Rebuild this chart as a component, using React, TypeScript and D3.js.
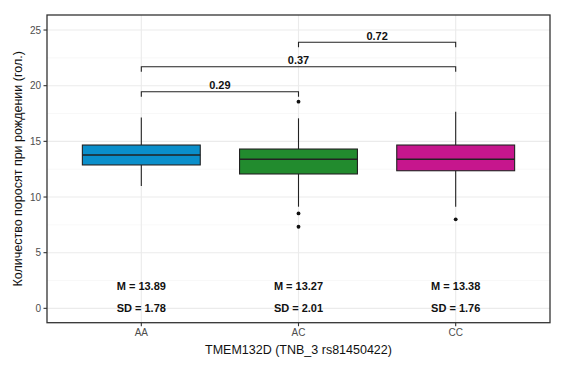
import React from "react";
import * as d3 from "d3";

const categories = ["AA", "AC", "CC"];
const boxColors = ["#0A8FCB", "#228B2E", "#C6168D"];
// [lowerWhisker, q1, median, q3, upperWhisker]
const boxStats = [
  [11.0, 12.88, 13.78, 14.67, 17.15],
  [9.13, 12.07, 13.39, 14.31, 17.07],
  [9.13, 12.36, 13.39, 14.67, 17.66],
];
const outliers = [[], [18.56, 8.53, 7.33], [8.0]];
const meanLabels = ["M = 13.89", "M = 13.27", "M = 13.38"];
const sdLabels = ["SD = 1.78", "SD = 2.01", "SD = 1.76"];
const yTicks = [0, 5, 10, 15, 20, 25];
const yMinor = [2.5, 7.5, 12.5, 17.5, 22.5];
// comparisons: [fromIndex, toIndex, yLevel, label]
const comparisons: [number, number, number, string][] = [
  [0, 1, 19.46, "0.29"],
  [0, 2, 21.7, "0.37"],
  [1, 2, 23.9, "0.72"],
];
const yTitle = "Количество поросят при рождении (гол.)";
const xTitle = "TMEM132D (TNB_3 rs81450422)";

export default function App() {
  const W = 565, H = 367;
  const left = 47, right = 550, top = 15, bottom = 322.7;
  const y = d3.scaleLinear().domain([-1.29, 26.35]).range([bottom, top]);
  const x = d3.scaleLinear().domain([0.4, 3.6]).range([left, right]);
  const cx = (i: number) => x(i + 1);
  const bw = x(0.75) - x(0);
  const tip = y(0) - y(0.45);
  const font = "Liberation Sans, Arial, sans-serif";
  const grid = "#EBEBEB";

  return (
    <div style={{ position: "absolute", left: 0, top: 0 }}>
      <svg width={W} height={H} style={{ display: "block", background: "#fff" }} fontFamily={font}>
        <rect x={0} y={0} width={W} height={H} fill="#fff" />
        {yMinor.map((v) => (
          <line key={"mn" + v} x1={left} x2={right} y1={y(v)} y2={y(v)} stroke="#F3F3F3" strokeWidth={0.6} />
        ))}
        {yTicks.map((v) => (
          <line key={"mj" + v} x1={left} x2={right} y1={y(v)} y2={y(v)} stroke={grid} strokeWidth={1.1} />
        ))}
        {categories.map((c, i) => (
          <line key={"vg" + c} x1={cx(i)} x2={cx(i)} y1={top} y2={bottom} stroke={grid} strokeWidth={1.1} />
        ))}
        {boxStats.map((s, i) => {
          const xc = cx(i);
          return (
            <g key={"b" + i}>
              <line x1={xc} x2={xc} y1={y(s[0])} y2={y(s[1])} stroke="#222" strokeWidth={1.1} />
              <line x1={xc} x2={xc} y1={y(s[3])} y2={y(s[4])} stroke="#222" strokeWidth={1.1} />
              <rect x={xc - bw / 2} y={y(s[3])} width={bw} height={y(s[1]) - y(s[3])} fill={boxColors[i]} stroke="#222" strokeWidth={1.1} />
              <line x1={xc - bw / 2} x2={xc + bw / 2} y1={y(s[2])} y2={y(s[2])} stroke="#222" strokeWidth={1.6} />
              {outliers[i].map((o, k) => (
                <circle key={k} cx={xc} cy={y(o)} r={1.9} fill="#111" />
              ))}
            </g>
          );
        })}
        {comparisons.map(([a, b, lv, lab], i) => (
          <g key={"c" + i}>
            <path
              d={`M${cx(a)},${y(lv) + tip}V${y(lv)}H${cx(b)}V${y(lv) + tip}`}
              fill="none"
              stroke="#222"
              strokeWidth={1.1}
            />
            <text x={(cx(a) + cx(b)) / 2} y={y(lv) - 2.5} textAnchor="middle" fontSize={11} fontWeight="bold" fill="#111">
              {lab}
            </text>
          </g>
        ))}
        {categories.map((c, i) => (
          <g key={"t" + c}>
            <text x={cx(i)} y={y(2)} dy="0.35em" textAnchor="middle" fontSize={11} fontWeight="bold" fill="#111">
              {meanLabels[i]}
            </text>
            <text x={cx(i)} y={y(0.05)} dy="0.35em" textAnchor="middle" fontSize={11} fontWeight="bold" fill="#111">
              {sdLabels[i]}
            </text>
          </g>
        ))}
        <rect x={left} y={top} width={right - left} height={bottom - top} fill="none" stroke="#333" strokeWidth={1.3} />
        {yTicks.map((v) => (
          <g key={"yt" + v}>
            <line x1={left - 3.5} x2={left} y1={y(v)} y2={y(v)} stroke="#333" strokeWidth={1.1} />
            <text x={left - 6} y={y(v)} dy="0.35em" textAnchor="end" fontSize={10} fill="#4D4D4D">
              {v}
            </text>
          </g>
        ))}
        {categories.map((c, i) => (
          <g key={"xt" + c}>
            <line x1={cx(i)} x2={cx(i)} y1={bottom} y2={bottom + 3.5} stroke="#333" strokeWidth={1.1} />
            <text x={cx(i)} y={bottom + 10} dy="0.35em" textAnchor="middle" fontSize={10} fill="#4D4D4D">
              {c}
            </text>
          </g>
        ))}
        <text x={(left + right) / 2} y={350} dy="0.35em" textAnchor="middle" fontSize={12.5} fill="#111">
          {xTitle}
        </text>
        <text transform={`translate(18,${(top + bottom) / 2}) rotate(-90)`} dy="0.35em" textAnchor="middle" fontSize={12.5} fill="#111">
          {yTitle}
        </text>
      </svg>
    </div>
  );
}
